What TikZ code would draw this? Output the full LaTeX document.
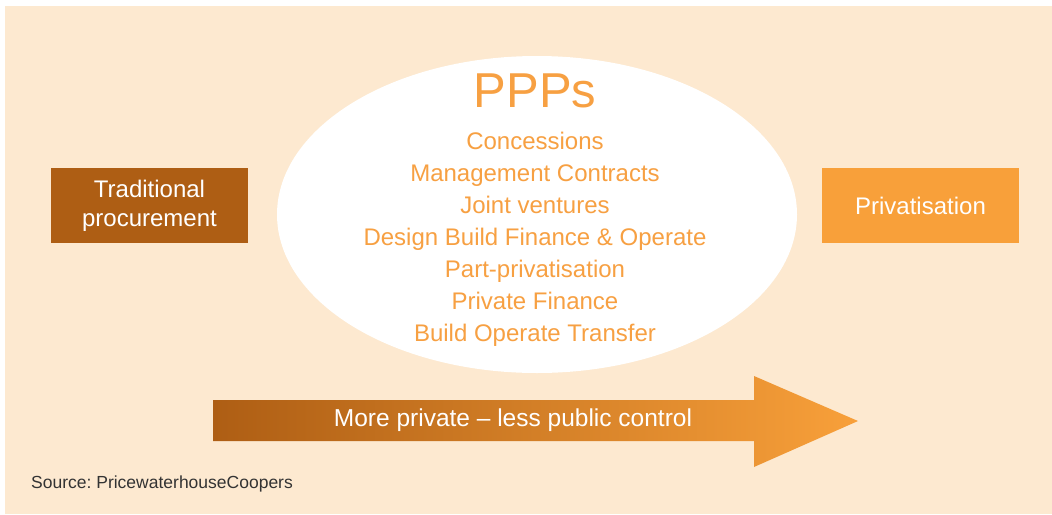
\documentclass[tikz,border=0pt]{standalone}
\usepackage{fontspec}
\setmainfont{Liberation Sans}
\frenchspacing
\definecolor{bgbeige}{HTML}{FDE9D0}
\definecolor{brownbox}{HTML}{AE5E14}
\definecolor{orangebox}{HTML}{F8A03A}
\definecolor{ppptext}{HTML}{F7A042}
\definecolor{srcgray}{HTML}{333333}
\begin{document}
\begin{tikzpicture}[x=1pt,y=-1pt,
  boxstyle/.style={minimum width=197pt,minimum height=75pt,inner sep=0pt,text=white,font=\fontsize{24}{29}\selectfont,align=center},
  listitem/.style={text=ppptext,font=\fontsize{24}{29}\selectfont,inner sep=0pt,anchor=base}]
\useasboundingbox (0,0) rectangle (1052,514);
\fill[white] (0,0) rectangle (1052,514);
\fill[bgbeige] (5,6) rectangle (1052,514);
% boxes
\node[boxstyle,fill=brownbox] (trad) at (149.5,205.5) {Traditional\\procurement};
\node[boxstyle,fill=orangebox] (priv) at (920.5,205.5) {Privatisation};
% ellipse
\fill[white] (537,214.5) ellipse [x radius=260, y radius=158.5];
\node[text=ppptext,font=\fontsize{49}{55}\selectfont,inner sep=0pt,anchor=base] (ppps) at (535,107) {PPPs};
\node[listitem] (l1) at (535,149.5) {Concessions};
\node[listitem] (l2) at (535,181.5) {Management Contracts};
\node[listitem] (l3) at (535,213.5) {Joint ventures};
\node[listitem] (l4) at (535,245.5) {Design Build Finance \& Operate};
\node[listitem] (l5) at (535,277.5) {Part-privatisation};
\node[listitem] (l6) at (535,309.5) {Private Finance};
\node[listitem] (l7) at (535,341.5) {Build Operate Transfer};
% arrow
\shade[left color=brownbox,right color=orangebox]
  (213,400) -- (754,400) -- (754,376) -- (858,421) -- (754,467) -- (754,441) -- (213,441) -- cycle;
\node[text=white,font=\fontsize{24.5}{29}\selectfont,inner sep=0pt,anchor=base] (arrowlabel) at (513,426.5) {More private – less public control};
% source
\node[text=srcgray,font=\fontsize{17.5}{20}\selectfont,inner sep=0pt,anchor=base west] (source) at (31,488) {Source: PricewaterhouseCoopers};
\end{tikzpicture}
\end{document}
